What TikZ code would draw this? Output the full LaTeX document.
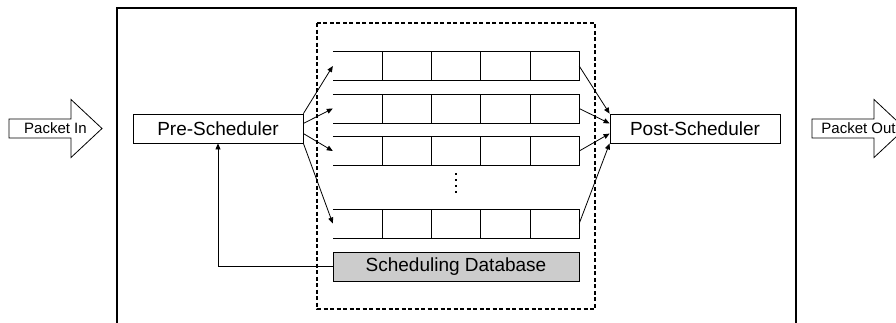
\documentclass[tikz,border=0pt]{standalone}
\usepackage{fontspec}
\setmainfont{Liberation Sans}
\usetikzlibrary{arrows.meta,calc,positioning}

\begin{document}
\begin{tikzpicture}[x=1pt,y=-1pt,
        box/.style={
                draw,
                line width=0.8pt,
                minimum width=170pt,
                minimum height=29pt,
                inner sep=0pt,
                font=\fontsize{19}{22}\selectfont
            },
        queue/.style={
                minimum width=246pt,
                minimum height=28.5pt,
                inner sep=0pt
            },
        database/.style={
                box,
                fill=black!20,
                minimum width=246pt
            },
        io/.style={
                inner sep=0pt,
                font=\fontsize{15}{18}\selectfont
            },
        link/.style={
                -{Triangle[length=6pt,width=5pt]},
                line width=0.8pt
            }]
        \useasboundingbox (0,0) rectangle (896,322);
        \clip (0,0) rectangle (896,322);

        % frame and queue area
        \draw [line width=1.8pt] (117,330) -- (117,8) -- (796,8) -- (796,330);
        \draw [line width=1.6pt, dash pattern=on 4pt off 2.5pt] (317,23) rectangle (595,309);

        \node [box] (pre) at (218,128.5) {Pre-Scheduler};
        \node [box] (post) at (695,128.5) {Post-Scheduler};
        \node [database] (db) at (456,266.5) {Scheduling Database};

        % queues
        \foreach \r/\y in {1/66, 2/108.5, 3/151, 4/223.5} {
            \node [queue] (q\r) at (456,\y) {};
            \draw [line width=0.8pt] (q\r.north west) -- (q\r.north east) -- (q\r.south east) -- (q\r.south west);
            \foreach \k in {1,...,4}
                \draw [line width=0.8pt] ($(q\r.north west)!{\k/5}!(q\r.north east)$) -- ($(q\r.south west)!{\k/5}!(q\r.south east)$);
        }
        \draw [line width=1.5pt, dash pattern=on 1.5pt off 4.5pt] ($(q3.south)+(0,8)$) -- ($(q4.north)+(0,-14)$);

        \foreach \r/\k in {1/0, 2/0.33, 3/0.67, 4/1} {
            \draw [link] ($(pre.north east)!\k!(pre.south east)$) -- (q\r.west);
            \draw [link] (q\r.east) -- ($(post.north west)!\k!(post.south west)$);
        }
        \draw [link] (db.west) -| (pre.south);

        % packets in and out
        \node [io] (in) at (55.5,128.5) {Packet In};
        \node [io] (out) at (858.5,128.5) {Packet Out};
        \foreach \p in {in, out}
            \draw [line width=0.8pt] ($(\p)+(-46.5,-9.5)$) -- ($(\p)+(15.5,-9.5)$) -- ($(\p)+(15.5,-29)$)
                -- ($(\p)+(46.5,0)$) -- ($(\p)+(15.5,29)$) -- ($(\p)+(15.5,9.5)$) -- ($(\p)+(-46.5,9.5)$) -- cycle;
    \end{tikzpicture}
\end{document}
